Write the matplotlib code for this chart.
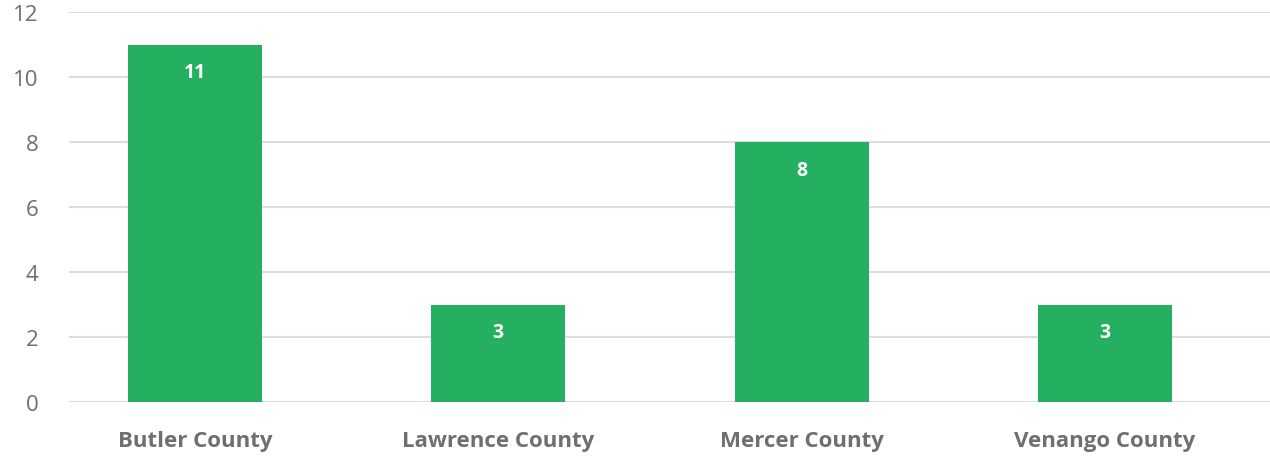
import matplotlib
matplotlib.use("Agg")
import matplotlib.pyplot as plt
import numpy as np

counties = ["Butler County", "Lawrence County", "Mercer County", "Venango County"]
counts = [11, 3, 8, 3]
y_ticks = [0, 2, 4, 6, 8, 10, 12]

GREEN = "#24b060"
GREY = "#6e6e73"
GRID = "#dddddd"

plt.rcParams["font.family"] = ["Open Sans", "DejaVu Sans"]

fig = plt.figure(figsize=(12.7, 4.6), dpi=100)
ax = fig.add_axes([69 / 1270, 1 - 403 / 460, 1 - 69 / 1270, (403 - 13) / 460])

x = np.arange(len(counties))
bars = ax.bar(x, counts, width=0.442, color=GREEN, zorder=3)

for b, v in zip(bars, counts):
    ax.annotate(
        f"{v}",
        (b.get_x() + b.get_width() / 2, b.get_height()),
        xytext=(0, -20),
        textcoords="offset points",
        ha="center",
        va="center",
        color="white",
        fontsize=14,
        fontweight="bold",
    )

ax.set_xlim(-0.415, 3.544)
ax.set_ylim(0, 12)
ax.set_yticks(y_ticks)
ax.set_yticklabels([str(t) for t in y_ticks], fontsize=16, color=GREY)
ax.set_xticks(x)
ax.set_xticklabels(counties, fontsize=16, fontweight="bold", color=GREY)
ax.tick_params(axis="y", length=0, pad=22)
ax.tick_params(axis="x", length=0, pad=20)
ax.grid(axis="y", color=GRID, linewidth=1.5, zorder=0)
for s in ax.spines.values():
    s.set_visible(False)

fig.savefig("out.png", dpi=100)
